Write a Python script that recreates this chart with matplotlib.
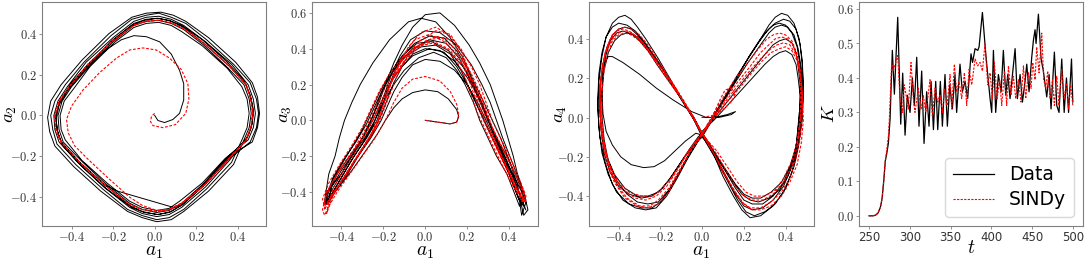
import numpy as np
import matplotlib.pyplot as plt
from matplotlib.ticker import FuncFormatter, MultipleLocator

plt.rcParams["mathtext.fontset"] = "cm"

# ---- panel 1: a1 vs a2 ----
p1_black_start = [(0.0, 0.0), (0.016, -0.025), (0.048, -0.035), (0.088, -0.02), (0.12, 0.01),
                  (0.14, 0.075), (0.14, 0.155), (0.12, 0.22), (0.08, 0.30), (0.024, 0.36),
                  (-0.04, 0.385), (-0.10, 0.39), (-0.16, 0.37), (-0.22, 0.33), (-0.31, 0.26),
                  (-0.40, 0.16), (-0.46, 0.06), (-0.475, 0.0), (-0.47, -0.07), (-0.45, -0.13),
                  (-0.36, -0.23), (-0.24, -0.34), (-0.18, -0.37), (0.09, -0.45), (0.13, -0.44),
                  (0.24, -0.34), (0.35, -0.22)]
p1_black_loops = [
    [(0.46, -0.13), (0.49, -0.06), (0.50, 0.01), (0.49, 0.08), (0.46, 0.16), (0.38, 0.25), (0.25, 0.37),
     (0.15, 0.45), (0.08, 0.48), (0.02, 0.50), (-0.04, 0.49), (-0.11, 0.47), (-0.21, 0.39), (-0.34, 0.26),
     (-0.43, 0.15), (-0.48, 0.07), (-0.50, 0.0), (-0.49, -0.07), (-0.47, -0.14), (-0.38, -0.24),
     (-0.25, -0.36), (-0.13, -0.46), (-0.06, -0.49), (0.01, -0.51), (0.07, -0.50), (0.14, -0.46),
     (0.25, -0.36), (0.37, -0.23)],
    [(0.42, -0.12), (0.445, -0.06), (0.455, 0.01), (0.445, 0.08), (0.42, 0.14), (0.35, 0.23), (0.23, 0.34),
     (0.13, 0.41), (0.08, 0.44), (0.02, 0.455), (-0.04, 0.45), (-0.10, 0.43), (-0.19, 0.36), (-0.31, 0.24),
     (-0.39, 0.13), (-0.435, 0.07), (-0.455, 0.0), (-0.45, -0.07), (-0.43, -0.12), (-0.35, -0.22),
     (-0.23, -0.33), (-0.12, -0.42), (-0.06, -0.45), (0.01, -0.465), (0.07, -0.455), (0.12, -0.42),
     (0.23, -0.33), (0.34, -0.21)],
    [(0.45, -0.12), (0.475, -0.06), (0.485, 0.01), (0.475, 0.08), (0.45, 0.15), (0.37, 0.25), (0.245, 0.36),
     (0.14, 0.44), (0.08, 0.47), (0.02, 0.485), (-0.04, 0.48), (-0.10, 0.46), (-0.20, 0.38), (-0.33, 0.26),
     (-0.42, 0.14), (-0.465, 0.07), (-0.485, 0.0), (-0.48, -0.07), (-0.46, -0.13), (-0.37, -0.23),
     (-0.245, -0.35), (-0.12, -0.45), (-0.06, -0.48), (0.01, -0.495), (0.07, -0.485), (0.13, -0.45),
     (0.245, -0.35), (0.36, -0.22)],
    [(0.45, -0.10), (0.47, -0.04), (0.475, 0.03), (0.46, 0.10), (0.43, 0.17), (0.35, 0.26), (0.23, 0.37),
     (0.13, 0.44), (0.07, 0.465), (0.01, 0.475), (-0.05, 0.465), (-0.11, 0.44), (-0.21, 0.36), (-0.33, 0.23),
     (-0.42, 0.12), (-0.46, 0.05), (-0.475, -0.02), (-0.465, -0.09), (-0.44, -0.15), (-0.35, -0.25),
     (-0.23, -0.36), (-0.11, -0.45), (-0.05, -0.475), (0.02, -0.485), (0.08, -0.47), (0.14, -0.43),
     (0.25, -0.32), (0.36, -0.20)],
    [(0.47, -0.13), (0.495, -0.06), (0.505, 0.01), (0.495, 0.09), (0.47, 0.16), (0.39, 0.26), (0.26, 0.38),
     (0.15, 0.46), (0.09, 0.49), (0.03, 0.505), (-0.04, 0.50), (-0.11, 0.48), (-0.22, 0.40), (-0.35, 0.27),
     (-0.45, 0.15), (-0.50, 0.07), (-0.515, -0.01), (-0.505, -0.08), (-0.48, -0.15), (-0.39, -0.25),
     (-0.26, -0.37), (-0.13, -0.47), (-0.06, -0.50), (0.01, -0.52), (0.08, -0.51), (0.14, -0.47),
     (0.26, -0.37), (0.38, -0.24)],
    [(0.43, -0.12), (0.455, -0.06), (0.465, 0.01), (0.455, 0.08), (0.43, 0.15), (0.35, 0.235), (0.235, 0.345),
     (0.14, 0.42), (0.08, 0.45), (0.02, 0.465), (-0.04, 0.46), (-0.10, 0.44), (-0.20, 0.36), (-0.31, 0.245),
     (-0.40, 0.14), (-0.445, 0.07), (-0.465, 0.0), (-0.46, -0.07), (-0.44, -0.13), (-0.35, -0.225),
     (-0.235, -0.335), (-0.12, -0.43), (-0.06, -0.46), (0.01, -0.475), (0.07, -0.465), (0.13, -0.43),
     (0.235, -0.335), (0.34, -0.215)],
    [(0.44, -0.12), (0.465, -0.06), (0.475, 0.01), (0.465, 0.08), (0.44, 0.15), (0.36, 0.24), (0.24, 0.35),
     (0.14, 0.43), (0.08, 0.46), (0.02, 0.475), (-0.04, 0.47), (-0.10, 0.45), (-0.20, 0.37), (-0.32, 0.25),
     (-0.41, 0.14), (-0.455, 0.07), (-0.475, 0.0), (-0.47, -0.07), (-0.45, -0.13), (-0.36, -0.23),
     (-0.24, -0.34), (-0.12, -0.44), (-0.06, -0.47), (0.01, -0.485), (0.07, -0.475), (0.13, -0.44),
     (0.24, -0.34), (0.35, -0.22), (0.44, -0.12)],
]
p1_red_start = [(0.0, 0.01), (-0.015, -0.005), (-0.02, -0.03), (-0.008, -0.05), (0.04, -0.06), (0.10, -0.045),
                (0.15, 0.01), (0.165, 0.08), (0.16, 0.155), (0.128, 0.225), (0.072, 0.28), (0.008, 0.32),
                (-0.056, 0.33), (-0.12, 0.32), (-0.184, 0.28), (-0.264, 0.21), (-0.344, 0.125), (-0.40, 0.045),
                (-0.424, -0.02), (-0.416, -0.085), (-0.384, -0.15), (-0.32, -0.215), (-0.22, -0.31),
                (-0.12, -0.40), (-0.06, -0.44), (0.01, -0.465), (0.07, -0.46), (0.13, -0.43), (0.24, -0.34),
                (0.35, -0.22)]
p1_red_loops = [
    [(0.44, -0.12), (0.462, -0.06), (0.472, 0.01), (0.462, 0.08), (0.44, 0.15), (0.36, 0.24), (0.24, 0.35),
     (0.14, 0.425), (0.08, 0.452), (0.02, 0.465), (-0.04, 0.46), (-0.10, 0.44), (-0.20, 0.365), (-0.32, 0.25),
     (-0.41, 0.14), (-0.458, 0.07), (-0.48, 0.0), (-0.475, -0.07), (-0.45, -0.13), (-0.36, -0.23),
     (-0.24, -0.34), (-0.12, -0.435), (-0.06, -0.46), (0.01, -0.47), (0.07, -0.46), (0.13, -0.43),
     (0.24, -0.34), (0.35, -0.22)],
    [(0.441, -0.12), (0.463, -0.06), (0.473, 0.01), (0.463, 0.08), (0.441, 0.15), (0.361, 0.241),
     (0.241, 0.351), (0.14, 0.426), (0.08, 0.453), (0.02, 0.466), (-0.04, 0.461), (-0.10, 0.441),
     (-0.20, 0.366), (-0.321, 0.251), (-0.411, 0.14), (-0.459, 0.07), (-0.481, 0.0), (-0.476, -0.07),
     (-0.451, -0.13), (-0.361, -0.231), (-0.241, -0.341), (-0.12, -0.436), (-0.06, -0.461), (0.01, -0.471),
     (0.07, -0.461), (0.13, -0.431), (0.241, -0.341), (0.351, -0.221), (0.441, -0.12)],
]

# ---- panel 2: a1 vs a3 ----
p2_black = [
    [(0.0, 0.0), (0.06, -0.01), (0.12, -0.02), (0.15, -0.01), (0.16, 0.02), (0.15, 0.06), (0.11, 0.12),
     (0.06, 0.16), (0.0, 0.17), (-0.06, 0.155), (-0.11, 0.12), (-0.15, 0.07), (-0.19, 0.0), (-0.23, -0.08),
     (-0.29, -0.18), (-0.35, -0.28), (-0.41, -0.37), (-0.46, -0.44), (-0.48, -0.47)],
    [(-0.46, -0.40), (-0.42, -0.30), (-0.36, -0.20), (-0.30, -0.10), (-0.25, 0.0), (-0.21, 0.10), (-0.17, 0.20),
     (-0.12, 0.29), (-0.06, 0.36), (0.02, 0.40), (0.09, 0.38), (0.15, 0.30), (0.20, 0.20), (0.24, 0.10),
     (0.28, 0.0), (0.32, -0.10), (0.36, -0.20), (0.40, -0.30), (0.44, -0.42), (0.46, -0.47)],
    [(0.47, -0.42), (0.43, -0.30), (0.39, -0.20), (0.34, -0.10), (0.30, 0.0), (0.27, 0.10), (0.23, 0.20),
     (0.18, 0.30), (0.11, 0.39), (0.03, 0.44), (-0.04, 0.43), (-0.10, 0.37), (-0.14, 0.29), (-0.17, 0.20),
     (-0.20, 0.10), (-0.23, 0.0), (-0.28, -0.10), (-0.34, -0.20), (-0.39, -0.30), (-0.44, -0.40),
     (-0.47, -0.47)],
    [(-0.48, -0.45), (-0.46, -0.30), (-0.43, -0.20), (-0.41, -0.10), (-0.385, 0.0), (-0.35, 0.10),
     (-0.31, 0.20), (-0.25, 0.32), (-0.17, 0.45), (-0.08, 0.55), (-0.02, 0.57), (0.05, 0.55), (0.12, 0.46),
     (0.18, 0.35), (0.23, 0.22), (0.28, 0.10), (0.32, 0.0), (0.36, -0.10), (0.40, -0.22), (0.44, -0.36),
     (0.46, -0.48), (0.47, -0.53)],
    [(0.49, -0.50), (0.47, -0.40), (0.44, -0.30), (0.42, -0.20), (0.395, -0.10), (0.37, 0.0), (0.34, 0.10),
     (0.31, 0.20), (0.26, 0.32), (0.21, 0.42), (0.14, 0.53), (0.07, 0.60), (0.0, 0.59), (-0.06, 0.52),
     (-0.11, 0.42), (-0.15, 0.32), (-0.19, 0.20), (-0.22, 0.10), (-0.26, 0.0), (-0.30, -0.10), (-0.35, -0.20),
     (-0.40, -0.30), (-0.45, -0.40), (-0.48, -0.47)],
    [(-0.47, -0.40), (-0.40, -0.30), (-0.35, -0.20), (-0.29, -0.10), (-0.24, 0.0), (-0.20, 0.10), (-0.15, 0.20),
     (-0.10, 0.28), (-0.03, 0.35), (0.04, 0.38), (0.10, 0.35), (0.15, 0.28), (0.19, 0.20), (0.23, 0.10),
     (0.26, 0.0), (0.30, -0.10), (0.34, -0.20), (0.39, -0.30), (0.43, -0.42), (0.45, -0.48)],
    [(0.46, -0.44), (0.42, -0.32), (0.37, -0.20), (0.33, -0.10), (0.29, 0.0), (0.25, 0.10), (0.20, 0.20),
     (0.14, 0.28), (0.07, 0.33), (0.0, 0.34), (-0.06, 0.31), (-0.11, 0.24), (-0.15, 0.16), (-0.18, 0.08),
     (-0.21, 0.0), (-0.26, -0.10), (-0.32, -0.20), (-0.37, -0.30), (-0.43, -0.40), (-0.46, -0.46)],
    [(-0.45, -0.38), (-0.40, -0.28), (-0.34, -0.18), (-0.29, -0.08), (-0.25, 0.02), (-0.22, 0.12),
     (-0.18, 0.22), (-0.13, 0.32), (-0.06, 0.40), (0.02, 0.45), (0.10, 0.43), (0.16, 0.35), (0.20, 0.26),
     (0.24, 0.16), (0.28, 0.05), (0.33, -0.08), (0.37, -0.20), (0.41, -0.32), (0.45, -0.45), (0.46, -0.53)],
    [(0.48, -0.46), (0.45, -0.34), (0.41, -0.22), (0.37, -0.10), (0.34, 0.0), (0.31, 0.10), (0.27, 0.20),
     (0.22, 0.31), (0.15, 0.42), (0.07, 0.49), (0.0, 0.50), (-0.07, 0.45), (-0.12, 0.36), (-0.16, 0.26),
     (-0.19, 0.16), (-0.22, 0.06), (-0.25, -0.03), (-0.30, -0.13), (-0.36, -0.24), (-0.41, -0.34),
     (-0.46, -0.44), (-0.48, -0.47)],
    [(-0.47, -0.42), (-0.44, -0.32), (-0.39, -0.22), (-0.33, -0.12), (-0.28, -0.02), (-0.24, 0.08),
     (-0.20, 0.18), (-0.15, 0.28), (-0.09, 0.36), (-0.02, 0.41), (0.05, 0.42), (0.12, 0.37), (0.17, 0.28),
     (0.21, 0.18), (0.25, 0.08), (0.29, -0.02), (0.33, -0.12), (0.38, -0.24), (0.42, -0.36), (0.45, -0.45),
     (0.47, -0.48)],
    [(0.46, -0.40), (0.41, -0.28), (0.36, -0.16), (0.32, -0.06), (0.29, 0.04), (0.25, 0.14), (0.20, 0.24),
     (0.14, 0.33), (0.07, 0.39), (0.0, 0.40), (-0.06, 0.37), (-0.11, 0.30), (-0.15, 0.21), (-0.18, 0.12),
     (-0.21, 0.03), (-0.25, -0.07), (-0.31, -0.18), (-0.37, -0.29), (-0.42, -0.38), (-0.46, -0.45)],
    [(-0.44, -0.33), (-0.40, -0.25), (-0.35, -0.15), (-0.30, -0.05), (-0.26, 0.05), (-0.22, 0.15),
     (-0.17, 0.26), (-0.11, 0.36), (-0.05, 0.43), (0.02, 0.47), (0.09, 0.46), (0.15, 0.39), (0.20, 0.29),
     (0.24, 0.18), (0.28, 0.06), (0.33, -0.07), (0.38, -0.20), (0.42, -0.32), (0.46, -0.44), (0.48, -0.50)],
]
p2_red = [
    [(0.0, 0.0), (0.06, -0.01), (0.12, -0.02), (0.15, -0.01), (0.16, 0.03), (0.15, 0.09), (0.12, 0.16),
     (0.07, 0.22), (0.0, 0.245), (-0.06, 0.23), (-0.11, 0.18), (-0.15, 0.10), (-0.19, 0.0), (-0.24, -0.10),
     (-0.30, -0.20), (-0.36, -0.30), (-0.42, -0.40), (-0.46, -0.48), (-0.48, -0.53)],
    [(-0.49, -0.50), (-0.47, -0.40), (-0.42, -0.30), (-0.36, -0.20), (-0.30, -0.10), (-0.25, 0.0), (-0.21, 0.10),
     (-0.17, 0.20), (-0.12, 0.30), (-0.06, 0.39), (0.01, 0.45), (0.08, 0.46), (0.14, 0.40), (0.18, 0.31),
     (0.21, 0.22), (0.24, 0.12), (0.27, 0.02), (0.31, -0.08), (0.35, -0.18), (0.40, -0.30), (0.44, -0.40),
     (0.47, -0.46)],
    [(0.48, -0.44), (0.45, -0.36), (0.41, -0.26), (0.36, -0.14), (0.32, -0.04), (0.29, 0.06), (0.26, 0.16),
     (0.22, 0.26), (0.16, 0.36), (0.09, 0.44), (0.02, 0.48), (-0.05, 0.45), (-0.10, 0.37), (-0.14, 0.28),
     (-0.17, 0.18), (-0.20, 0.08), (-0.23, -0.02), (-0.28, -0.12), (-0.34, -0.23), (-0.40, -0.34),
     (-0.45, -0.43), (-0.48, -0.50)],
    [(-0.48, -0.45), (-0.45, -0.36), (-0.40, -0.26), (-0.34, -0.16), (-0.29, -0.06), (-0.25, 0.04),
     (-0.21, 0.14), (-0.16, 0.25), (-0.10, 0.35), (-0.03, 0.44), (0.05, 0.50), (0.12, 0.48), (0.17, 0.39),
     (0.21, 0.28), (0.24, 0.18), (0.27, 0.08), (0.30, -0.02), (0.34, -0.13), (0.39, -0.26), (0.43, -0.37),
     (0.47, -0.45)],
    [(0.47, -0.40), (0.43, -0.30), (0.39, -0.20), (0.34, -0.09), (0.30, 0.01), (0.27, 0.11), (0.23, 0.21),
     (0.18, 0.31), (0.11, 0.40), (0.04, 0.44), (-0.03, 0.42), (-0.09, 0.35), (-0.13, 0.26), (-0.16, 0.17),
     (-0.19, 0.08), (-0.22, -0.01), (-0.27, -0.11), (-0.33, -0.22), (-0.39, -0.33), (-0.44, -0.42),
     (-0.47, -0.52)],
    [(-0.46, -0.46), (-0.44, -0.38), (-0.39, -0.28), (-0.33, -0.17), (-0.28, -0.07), (-0.24, 0.03),
     (-0.20, 0.13), (-0.15, 0.24), (-0.09, 0.34), (-0.02, 0.42), (0.05, 0.47), (0.12, 0.45), (0.17, 0.37),
     (0.20, 0.28), (0.23, 0.18), (0.26, 0.08), (0.29, -0.02), (0.33, -0.12), (0.38, -0.24), (0.43, -0.36),
     (0.48, -0.46)],
    [(0.48, -0.42), (0.45, -0.33), (0.41, -0.22), (0.36, -0.10), (0.32, 0.0), (0.29, 0.10), (0.26, 0.20),
     (0.22, 0.30), (0.17, 0.40), (0.11, 0.48), (0.05, 0.52), (-0.02, 0.49), (-0.08, 0.41), (-0.12, 0.32),
     (-0.16, 0.22), (-0.19, 0.12), (-0.22, 0.02), (-0.26, -0.08), (-0.32, -0.19), (-0.38, -0.30),
     (-0.44, -0.41), (-0.48, -0.48)],
    [(-0.49, -0.44), (-0.46, -0.35), (-0.41, -0.25), (-0.35, -0.14), (-0.30, -0.04), (-0.26, 0.06),
     (-0.22, 0.16), (-0.17, 0.26), (-0.11, 0.35), (-0.04, 0.41), (0.03, 0.43), (0.10, 0.40), (0.15, 0.33),
     (0.19, 0.24), (0.22, 0.14), (0.25, 0.04), (0.29, -0.06), (0.33, -0.16), (0.38, -0.28), (0.43, -0.39),
     (0.47, -0.46)],
]

# ---- panel 3: a1 vs a4 ----
p3_black = [
    [(0.0, 0.0), (0.06, 0.0), (0.12, 0.015), (0.16, 0.03), (0.14, 0.015), (0.08, 0.0), (0.02, 0.0),
     (-0.05, 0.03), (-0.14, 0.09), (-0.22, 0.15), (-0.30, 0.22), (-0.38, 0.28), (-0.43, 0.31), (-0.45, 0.31),
     (-0.47, 0.27), (-0.485, 0.18), (-0.49, 0.06), (-0.485, -0.06), (-0.47, -0.18), (-0.44, -0.28),
     (-0.40, -0.35), (-0.35, -0.39), (-0.29, -0.41), (-0.24, -0.40), (-0.19, -0.36), (-0.14, -0.29),
     (-0.09, -0.21), (-0.04, -0.14)],
    [(0.0, -0.10), (0.05, -0.01), (0.10, 0.08), (0.16, 0.19), (0.22, 0.30), (0.28, 0.40), (0.32, 0.47),
     (0.35, 0.51), (0.38, 0.53), (0.41, 0.52), (0.44, 0.48), (0.465, 0.40), (0.48, 0.29), (0.485, 0.16),
     (0.48, 0.02), (0.465, -0.12), (0.44, -0.25), (0.40, -0.36), (0.35, -0.44), (0.30, -0.48), (0.25, -0.50),
     (0.21, -0.48), (0.17, -0.42), (0.12, -0.32), (0.07, -0.22), (0.03, -0.14)],
    [(0.0, -0.10), (-0.04, -0.01), (-0.09, 0.08), (-0.15, 0.19), (-0.21, 0.30), (-0.27, 0.40), (-0.31, 0.46),
     (-0.34, 0.50), (-0.37, 0.52), (-0.40, 0.51), (-0.43, 0.48), (-0.46, 0.41), (-0.48, 0.31), (-0.495, 0.18),
     (-0.50, 0.04), (-0.49, -0.10), (-0.465, -0.23), (-0.43, -0.34), (-0.38, -0.42), (-0.32, -0.46),
     (-0.27, -0.47), (-0.22, -0.46), (-0.17, -0.40), (-0.12, -0.31), (-0.07, -0.21), (-0.03, -0.14)],
    [(0.0, -0.08), (0.06, 0.0), (0.12, 0.08), (0.18, 0.16), (0.24, 0.24), (0.30, 0.32), (0.34, 0.37),
     (0.37, 0.39), (0.40, 0.40), (0.43, 0.38), (0.45, 0.33), (0.46, 0.26), (0.47, 0.17), (0.47, 0.07),
     (0.46, -0.04), (0.45, -0.15), (0.42, -0.25), (0.38, -0.33), (0.33, -0.38), (0.28, -0.41), (0.24, -0.41),
     (0.20, -0.39), (0.16, -0.34), (0.11, -0.26), (0.06, -0.18), (0.02, -0.11)],
    [(0.0, -0.08), (-0.04, 0.0), (-0.09, 0.08), (-0.15, 0.18), (-0.21, 0.28), (-0.27, 0.36), (-0.31, 0.41),
     (-0.35, 0.43), (-0.38, 0.44), (-0.41, 0.43), (-0.44, 0.39), (-0.46, 0.32), (-0.475, 0.23), (-0.48, 0.12),
     (-0.475, 0.02), (-0.46, -0.07), (-0.43, -0.14), (-0.39, -0.20), (-0.34, -0.24), (-0.28, -0.255),
     (-0.23, -0.25), (-0.18, -0.22), (-0.13, -0.17), (-0.08, -0.12), (-0.03, -0.08)],
    [(0.0, -0.09), (0.05, 0.0), (0.10, 0.09), (0.16, 0.20), (0.22, 0.30), (0.27, 0.38), (0.31, 0.44),
     (0.34, 0.47), (0.37, 0.48), (0.40, 0.47), (0.43, 0.43), (0.455, 0.36), (0.47, 0.26), (0.475, 0.14),
     (0.47, 0.01), (0.455, -0.12), (0.43, -0.23), (0.39, -0.33), (0.34, -0.40), (0.29, -0.44), (0.24, -0.44),
     (0.20, -0.42), (0.16, -0.36), (0.11, -0.27), (0.06, -0.18), (0.02, -0.12)],
    [(0.0, -0.08), (-0.04, 0.0), (-0.09, 0.08), (-0.15, 0.17), (-0.21, 0.26), (-0.26, 0.34), (-0.30, 0.39),
     (-0.33, 0.42), (-0.36, 0.43), (-0.39, 0.42), (-0.42, 0.39), (-0.45, 0.33), (-0.47, 0.24), (-0.48, 0.13),
     (-0.48, 0.01), (-0.47, -0.11), (-0.45, -0.22), (-0.41, -0.32), (-0.36, -0.39), (-0.31, -0.43),
     (-0.26, -0.44), (-0.21, -0.43), (-0.16, -0.37), (-0.11, -0.28), (-0.06, -0.18), (-0.02, -0.11)],
    [(0.0, -0.07), (0.06, -0.01), (0.12, 0.06), (0.18, 0.13), (0.24, 0.20), (0.30, 0.27), (0.34, 0.31),
     (0.37, 0.33), (0.40, 0.34), (0.43, 0.32), (0.45, 0.27), (0.46, 0.20), (0.47, 0.11), (0.465, 0.0),
     (0.455, -0.11), (0.44, -0.21), (0.41, -0.30), (0.37, -0.37), (0.32, -0.41), (0.27, -0.43), (0.23, -0.42),
     (0.19, -0.39), (0.15, -0.33), (0.10, -0.25), (0.05, -0.17), (0.02, -0.11)],
    [(0.0, -0.09), (-0.04, -0.01), (-0.10, 0.09), (-0.16, 0.20), (-0.22, 0.30), (-0.28, 0.39), (-0.32, 0.44),
     (-0.36, 0.47), (-0.40, 0.48), (-0.43, 0.46), (-0.46, 0.41), (-0.48, 0.33), (-0.495, 0.22), (-0.50, 0.09),
     (-0.495, -0.05), (-0.48, -0.18), (-0.45, -0.29), (-0.41, -0.38), (-0.35, -0.44), (-0.29, -0.46),
     (-0.24, -0.46), (-0.20, -0.43), (-0.15, -0.36), (-0.10, -0.26), (-0.05, -0.17), (-0.02, -0.12)],
    [(0.0, -0.09), (0.05, 0.0), (0.11, 0.10), (0.17, 0.21), (0.23, 0.32), (0.28, 0.40), (0.32, 0.45),
     (0.35, 0.48), (0.39, 0.50), (0.42, 0.49), (0.45, 0.45), (0.47, 0.37), (0.48, 0.26), (0.485, 0.13),
     (0.48, -0.01), (0.46, -0.15), (0.43, -0.28), (0.39, -0.38), (0.34, -0.45), (0.28, -0.50), (0.23, -0.51),
     (0.19, -0.47), (0.15, -0.40), (0.10, -0.30), (0.06, -0.20), (0.02, -0.13)],
    [(0.0, -0.08), (-0.05, 0.01), (-0.10, 0.10), (-0.16, 0.20), (-0.22, 0.29), (-0.27, 0.37), (-0.31, 0.42),
     (-0.34, 0.45), (-0.37, 0.46), (-0.40, 0.45), (-0.43, 0.42), (-0.455, 0.36), (-0.475, 0.27), (-0.49, 0.16),
     (-0.49, 0.04), (-0.48, -0.08), (-0.46, -0.19), (-0.42, -0.29), (-0.37, -0.36), (-0.31, -0.40),
     (-0.26, -0.40), (-0.21, -0.38), (-0.16, -0.32), (-0.11, -0.24), (-0.06, -0.16), (-0.02, -0.10)],
    [(0.0, -0.08), (0.05, 0.0), (0.10, 0.08), (0.16, 0.18), (0.22, 0.28), (0.28, 0.37), (0.32, 0.43),
     (0.35, 0.46), (0.38, 0.47), (0.41, 0.46), (0.44, 0.42), (0.46, 0.35), (0.475, 0.25), (0.48, 0.13),
     (0.475, 0.0), (0.46, -0.13), (0.43, -0.25), (0.39, -0.35), (0.34, -0.42), (0.29, -0.46), (0.24, -0.47),
     (0.20, -0.45), (0.16, -0.39), (0.11, -0.29), (0.06, -0.19), (0.02, -0.11), (0.0, -0.08)],
]
p3_red = [
    [(0.0, 0.0), (0.05, 0.01), (0.10, 0.04), (0.14, 0.08), (0.16, 0.12), (0.14, 0.15), (0.11, 0.14),
     (0.09, 0.10), (0.06, 0.03), (0.03, -0.04)],
    [(0.0, -0.08), (-0.04, 0.0), (-0.09, 0.09), (-0.15, 0.19), (-0.21, 0.29), (-0.26, 0.37), (-0.30, 0.42),
     (-0.34, 0.45), (-0.37, 0.46), (-0.40, 0.45), (-0.43, 0.42), (-0.455, 0.36), (-0.475, 0.27), (-0.49, 0.16),
     (-0.49, 0.04), (-0.48, -0.08), (-0.46, -0.19), (-0.43, -0.29), (-0.38, -0.37), (-0.32, -0.41),
     (-0.27, -0.42), (-0.22, -0.40), (-0.17, -0.35), (-0.12, -0.27), (-0.07, -0.18), (-0.03, -0.12)],
    [(0.0, -0.08), (0.05, 0.0), (0.11, 0.09), (0.17, 0.18), (0.23, 0.26), (0.28, 0.33), (0.32, 0.37),
     (0.35, 0.40), (0.38, 0.41), (0.41, 0.40), (0.44, 0.36), (0.46, 0.29), (0.47, 0.20), (0.475, 0.09),
     (0.47, -0.03), (0.455, -0.15), (0.43, -0.25), (0.39, -0.33), (0.34, -0.39), (0.29, -0.42), (0.24, -0.42),
     (0.20, -0.40), (0.16, -0.35), (0.11, -0.26), (0.06, -0.17), (0.02, -0.11)],
    [(0.0, -0.09), (-0.04, -0.01), (-0.09, 0.08), (-0.15, 0.17), (-0.21, 0.26), (-0.26, 0.34), (-0.30, 0.39),
     (-0.34, 0.42), (-0.37, 0.43), (-0.40, 0.42), (-0.43, 0.39), (-0.45, 0.33), (-0.47, 0.24), (-0.48, 0.12),
     (-0.48, 0.0), (-0.47, -0.12), (-0.45, -0.24), (-0.41, -0.34), (-0.36, -0.41), (-0.30, -0.45),
     (-0.25, -0.45), (-0.21, -0.42), (-0.16, -0.36), (-0.11, -0.27), (-0.06, -0.18), (-0.02, -0.12)],
    [(0.0, -0.09), (0.05, -0.01), (0.11, 0.08), (0.17, 0.16), (0.23, 0.24), (0.29, 0.31), (0.33, 0.35),
     (0.36, 0.37), (0.39, 0.38), (0.42, 0.37), (0.45, 0.32), (0.47, 0.24), (0.48, 0.14), (0.48, 0.02),
     (0.47, -0.10), (0.45, -0.21), (0.42, -0.31), (0.38, -0.38), (0.33, -0.43), (0.28, -0.46), (0.23, -0.46),
     (0.19, -0.43), (0.15, -0.37), (0.10, -0.28), (0.06, -0.19), (0.02, -0.12)],
    [(0.0, -0.08), (-0.05, 0.01), (-0.10, 0.10), (-0.16, 0.20), (-0.22, 0.29), (-0.27, 0.36), (-0.31, 0.41),
     (-0.35, 0.44), (-0.38, 0.45), (-0.41, 0.44), (-0.44, 0.40), (-0.465, 0.33), (-0.48, 0.23), (-0.49, 0.11),
     (-0.485, -0.02), (-0.47, -0.14), (-0.44, -0.25), (-0.40, -0.33), (-0.35, -0.38), (-0.29, -0.40),
     (-0.24, -0.40), (-0.20, -0.37), (-0.15, -0.31), (-0.10, -0.23), (-0.06, -0.16), (-0.02, -0.11)],
    [(0.0, -0.08), (0.05, 0.01), (0.10, 0.10), (0.16, 0.20), (0.22, 0.28), (0.27, 0.35), (0.31, 0.40),
     (0.34, 0.42), (0.37, 0.43), (0.40, 0.42), (0.43, 0.39), (0.455, 0.32), (0.47, 0.23), (0.475, 0.12),
     (0.47, 0.0), (0.455, -0.12), (0.43, -0.22), (0.39, -0.31), (0.35, -0.37), (0.30, -0.40), (0.25, -0.40),
     (0.21, -0.38), (0.17, -0.33), (0.12, -0.25), (0.07, -0.17), (0.02, -0.11)],
    [(0.0, -0.08), (0.06, 0.0), (0.12, 0.08), (0.18, 0.15), (0.24, 0.23), (0.29, 0.29), (0.33, 0.33),
     (0.37, 0.35), (0.40, 0.36), (0.43, 0.34), (0.455, 0.29), (0.47, 0.21), (0.48, 0.11), (0.485, -0.01),
     (0.475, -0.13), (0.455, -0.24), (0.42, -0.33), (0.38, -0.40), (0.33, -0.45), (0.28, -0.47), (0.24, -0.47),
     (0.20, -0.44), (0.16, -0.38), (0.11, -0.29), (0.06, -0.19), (0.02, -0.12)],
    [(0.0, -0.08), (-0.04, 0.0), (-0.09, 0.08), (-0.15, 0.18), (-0.21, 0.27), (-0.26, 0.35), (-0.30, 0.40),
     (-0.34, 0.43), (-0.37, 0.44), (-0.40, 0.43), (-0.43, 0.40), (-0.46, 0.34), (-0.48, 0.25), (-0.49, 0.13),
     (-0.49, 0.01), (-0.48, -0.11), (-0.46, -0.23), (-0.42, -0.33), (-0.37, -0.41), (-0.31, -0.45),
     (-0.26, -0.46), (-0.21, -0.44), (-0.16, -0.38), (-0.11, -0.28), (-0.06, -0.18), (-0.02, -0.11),
     (0.0, -0.08)],
]

# ---- panel 4: K over time ----
t_data = [250, 255, 258, 261, 264, 266, 268, 270, 271.7, 273.7, 275.8, 278.6, 281.1, 285.2, 288.9,
          291.3, 294.2, 297.0, 300.3, 303.2, 305.6, 308.5, 311.3, 314.6, 317.5, 320.7, 323.6, 326.1,
          329.0, 331.8, 334.3, 337.5, 340.0, 343.2, 346.1, 349.0, 352.2, 355.5, 357.5, 361.6, 364.5,
          367.8, 371.0, 375.1, 377.0, 380.1, 383.4, 385.0, 389.1, 393.2, 395.6, 398.5, 400.5, 402.6,
          405.4, 408.7, 412.0, 414.8, 417.7, 420.2, 423.0, 429.2, 432.0, 435.3, 438.2, 441.4, 443.5,
          446.3, 449.6, 451.7, 453.7, 454.9, 457.8, 461.1, 463.9, 468.0, 470.9, 473.3, 477.4, 480.3,
          483.1, 486.4, 489.4, 492.2, 494.8, 498.4, 500]
K_data = [0.0, 0.0, 0.002, 0.008, 0.025, 0.05, 0.10, 0.16, 0.18, 0.21, 0.28, 0.48, 0.353, 0.576, 0.266,
          0.414, 0.234, 0.35, 0.30, 0.40, 0.32, 0.46, 0.26, 0.42, 0.21, 0.36, 0.26, 0.39,
          0.25, 0.39, 0.25, 0.39, 0.26, 0.41, 0.26, 0.38, 0.31, 0.41, 0.30, 0.44, 0.36,
          0.39, 0.34, 0.47, 0.445, 0.485, 0.48, 0.49, 0.59, 0.47, 0.41, 0.34, 0.30, 0.48,
          0.30, 0.41, 0.36, 0.48, 0.35, 0.41, 0.34, 0.485, 0.34, 0.41, 0.33, 0.39, 0.44,
          0.36, 0.46, 0.51, 0.54, 0.50, 0.585, 0.455, 0.42, 0.345, 0.41, 0.31, 0.475, 0.32,
          0.30, 0.455, 0.30, 0.40, 0.30, 0.455, 0.33]

t_sindy = [250, 255, 258, 261, 264, 266, 268, 270, 271.7, 273.7, 274.9, 277.8, 279.8, 285.2, 288.0,
           290.9, 293.3, 296.2, 298.2, 301.5, 304.4, 306.4, 310.5, 313.8, 316.6, 319.5, 322.0, 324.8,
           327.7, 331.0, 334.2, 337.1, 340.0, 342.4, 345.7, 349.4, 351.4, 354.7, 357.5, 360.4, 363.7,
           367.0, 369.8, 372.7, 376.0, 380.1, 383.3, 386.2, 389.1, 392.3, 395.6, 398.5, 401.3, 403.8,
           407.1, 410.3, 412.8, 416.1, 418.9, 421.0, 424.2, 427.1, 430.0, 433.2, 436.5, 439.4, 442.2,
           445.5, 448.8, 450.8, 453.7, 455.7, 458.6, 461.9, 464.3, 466.8, 469.2, 472.1, 475.0, 477.4,
           480.3, 483.1, 486.4, 489.4, 492.2, 494.8, 497.4, 500]
K_sindy = [0.0, 0.0, 0.002, 0.008, 0.025, 0.05, 0.10, 0.16, 0.19, 0.23, 0.28, 0.445, 0.42, 0.465, 0.34,
           0.30, 0.38, 0.34, 0.31, 0.445, 0.34, 0.30, 0.37, 0.31, 0.35, 0.30, 0.34, 0.395,
           0.29, 0.37, 0.33, 0.35, 0.30, 0.37, 0.32, 0.41, 0.31, 0.44, 0.36, 0.39, 0.34,
           0.415, 0.32, 0.425, 0.38, 0.455, 0.435, 0.445, 0.42, 0.50, 0.38, 0.415, 0.34, 0.445,
           0.34, 0.395, 0.32, 0.42, 0.32, 0.435, 0.35, 0.405, 0.34, 0.395, 0.33, 0.435, 0.34,
           0.415, 0.37, 0.445, 0.395, 0.49, 0.415, 0.53, 0.395, 0.37, 0.42, 0.34, 0.395, 0.32,
           0.405, 0.32, 0.425, 0.34, 0.385, 0.31, 0.38, 0.32]


def stack(parts):
    return np.array([pt for part in parts for pt in part])


def cm_fmt(v, pos):
    v = round(v, 1)
    if v == 0:
        v = 0.0
    return f"${v:.1f}$"


fig = plt.figure(figsize=(10.85, 2.6), dpi=100)
bottom, height = 0.1308, 0.861
lefts = [42, 312, 589, 859]
widths = [224, 226, 225, 224]
axes = [fig.add_axes([l / 1085, bottom, w / 1085, height]) for l, w in zip(lefts, widths)]

black_kw = dict(color="black", lw=0.7)
red_kw = dict(color="red", lw=0.8, linestyle=(0, (2.5, 1.5)))

# panel 1
b = stack([p1_black_start] + p1_black_loops)
r = stack([p1_red_start] + p1_red_loops)
axes[0].plot(b[:, 0], b[:, 1], **black_kw)
axes[0].plot(r[:, 0], r[:, 1], **red_kw)
axes[0].set_xlim(-0.542, 0.536)
axes[0].set_ylim(-0.541, 0.554)
axes[0].set_ylabel("$a_2$", fontsize=13.5)

# panel 2
b = stack(p2_black)
r = stack(p2_red)
axes[1].plot(b[:, 0], b[:, 1], **black_kw)
axes[1].plot(r[:, 0], r[:, 1], **red_kw)
axes[1].set_xlim(-0.54, 0.538)
axes[1].set_ylim(-0.59, 0.66)
axes[1].set_ylabel("$a_3$", fontsize=13.5)

# panel 3
b = stack(p3_black)
r = stack(p3_red)
axes[2].plot(b[:, 0], b[:, 1], **black_kw)
axes[2].plot(r[:, 0], r[:, 1], **red_kw)
axes[2].set_xlim(-0.542, 0.536)
axes[2].set_ylim(-0.552, 0.587)
axes[2].set_ylabel("$a_4$", fontsize=13.5)

for ax in axes[:3]:
    ax.set_xlabel("$a_1$", fontsize=14, va="center")
    ax.xaxis.set_label_coords(0.5, -0.115)
    ax.xaxis.set_major_locator(MultipleLocator(0.2))
    ax.xaxis.set_major_formatter(FuncFormatter(cm_fmt))
    ax.tick_params(axis="x", labelsize=9)

# panel 4
ax = axes[3]
ax.plot(t_data, K_data, color="black", lw=0.9, label="Data")
ax.plot(t_sindy, K_sindy, color="red", lw=0.8, linestyle=(0, (2, 1.2)), label="SINDy")
ax.set_xlim(237.7, 512.5)
ax.set_ylim(-0.0295, 0.62)
ax.xaxis.set_major_locator(MultipleLocator(50))
ax.tick_params(axis="x", labelsize=8.5)
ax.set_xlabel("$t$", fontsize=14, va="center")
ax.xaxis.set_label_coords(0.5, -0.095)
ax.set_ylabel("$K$", fontsize=13.5)
ax.legend(loc="lower right", fontsize=13.5, framealpha=1, edgecolor="0.85",
          handlelength=2.2, borderpad=0.4, labelspacing=0.3)

# ylabel centres, axes coords
label_x = [-0.143, -0.122, -0.133, -0.138]
for ax, lx in zip(axes, label_x):
    ax.yaxis.label.set_verticalalignment("center")
    ax.yaxis.set_label_coords(lx, 0.5)
    ax.yaxis.set_major_locator(MultipleLocator(0.2) if ax is not axes[3] else MultipleLocator(0.1))
    ax.yaxis.set_major_formatter(FuncFormatter(cm_fmt))
    ax.tick_params(axis="y", labelsize=9)
    ax.tick_params(labelcolor="0.2", color="0.5", length=2, width=0.6, pad=1.5)
    for s in ax.spines.values():
        s.set_color("0.5")
        s.set_linewidth(0.8)

fig.savefig("out.png", dpi=100)
